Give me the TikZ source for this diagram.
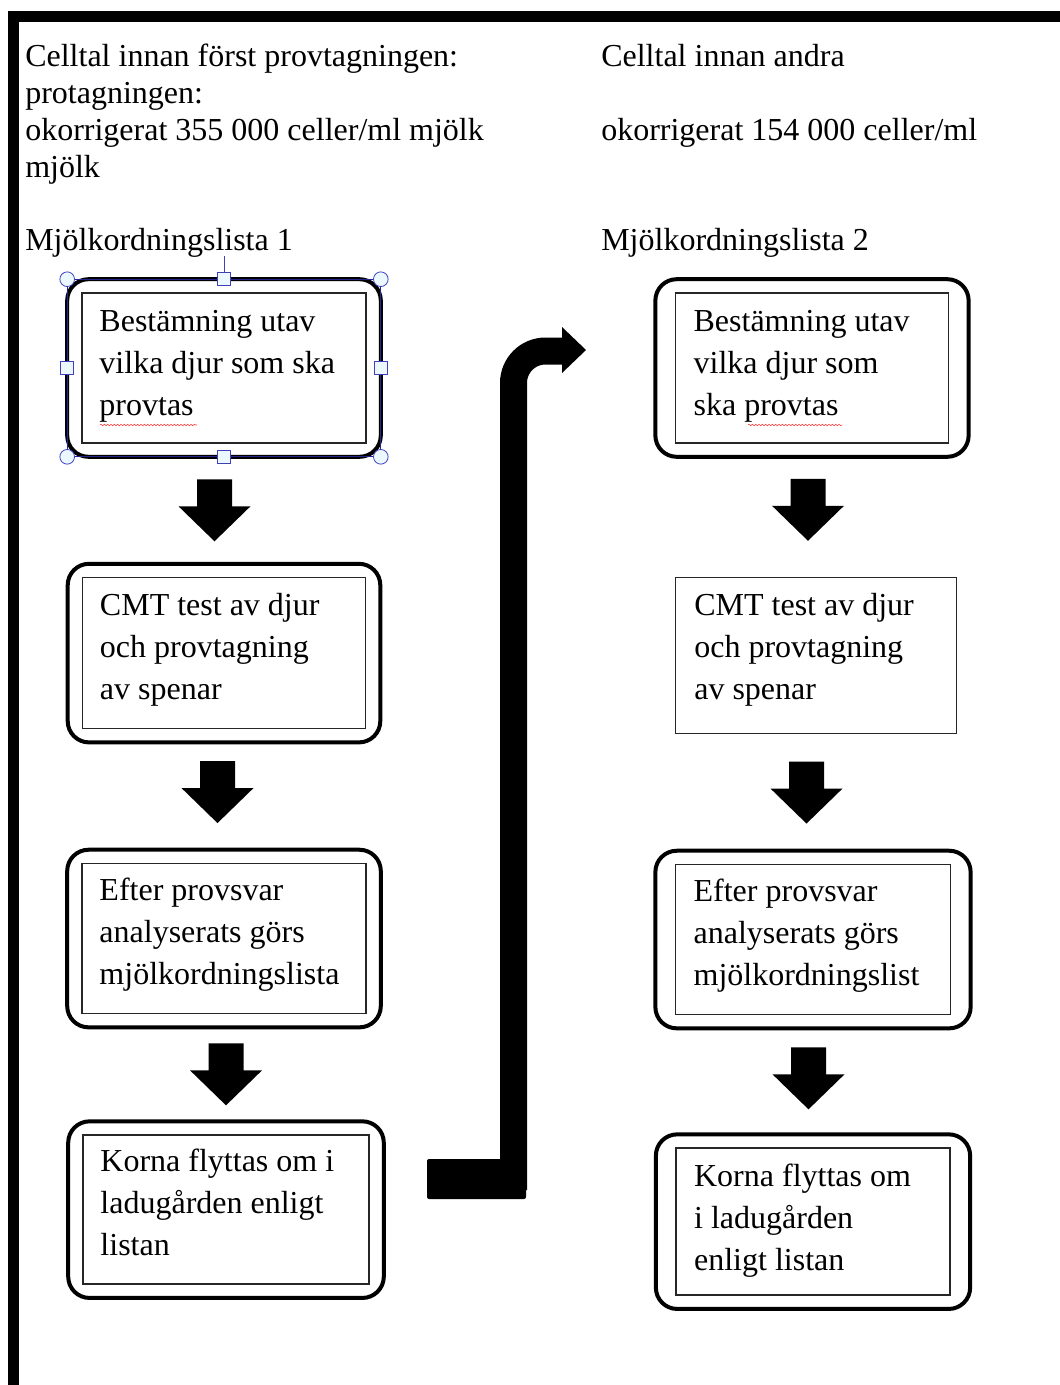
\documentclass[tikz,border=0pt]{standalone}
\usepackage{fontspec}
\setmainfont{Liberation Serif}
\usetikzlibrary{positioning, fit, calc, decorations.pathmorphing}

\begin{document}
\begin{tikzpicture}[
  x=0.75pt, y=-0.75pt,
  hdr/.style={anchor=north west, inner sep=0pt, align=left,
              font=\fontsize{24pt}{27.75pt}\selectfont},
  inbox/.style={rectangle, draw=black!85, line width=1.2pt, inner sep=0pt},
  btext/.style={inner sep=0pt, align=left,
                font=\fontsize{24pt}{31.5pt}\selectfont},
  outbox/.style={rectangle, draw=black, line width=3pt, rounded corners=16pt,
                 outer sep=0pt, inner xsep=#1, inner ysep=9.75pt},
  outbox/.default=10.5pt,
  handle/.style={draw=gray!50!blue, fill=cyan!8, line width=0.6pt, inner sep=0pt},
  spell/.style={draw=red!80, line width=0.4pt, decorate,
                decoration={snake, amplitude=0.6pt, segment length=2.5pt}},
  bigarr/.style={line width=20.25pt, rounded corners=24pt},
  downarr/.pic={\fill (-17.5,-31) -- (17.5,-31) -- (17.5,-4) -- (36,-4)
                -- (0,31) -- (-36,-4) -- (-17.5,-4) -- cycle;}
]
\useasboundingbox (0,0) rectangle (1060,1385);

% ==================== FRAME ====================
\fill (8,11) rectangle (1060,22);
\fill (8,11) rectangle (19,1385);

% ==================== HEADINGS ====================
\node[hdr] (head1) at (25,44)
  {Celltal innan först provtagningen:\\protagningen:\\okorrigerat 355 000 celler/ml mjölk\\mjölk};
\node[hdr] (head2) at (601,44)
  {Celltal innan andra\\~\\okorrigerat 154 000 celler/ml};
\node[hdr] (list1) at (25,228) {Mjölkordningslista 1};
\node[hdr] (list2) at (601,228) {Mjölkordningslista 2};

% ==================== LEFT COLUMN ====================
\node[inbox, minimum width=213pt, minimum height=112.5pt] (L1) at (224,368) {};
\node[inbox, minimum width=212.25pt, minimum height=113.25pt, below=99.75pt of L1] (L2) {};
\node[inbox, minimum width=213pt, minimum height=112.5pt, below=100pt of L2] (L3) {};
\node[inbox, minimum width=214.5pt, minimum height=111.75pt, below=90pt of L3, xshift=1.5pt] (L4) {};

\node[btext, below right=13.5pt and 13.5pt of L1.north west] (L1t)
  {Bestämning utav\\vilka djur som ska\\provtas};
\node[btext, below right=12pt and 13.5pt of L2.north west] (L2t)
  {CMT test av djur\\och provtagning\\av spenar};
\node[btext, below right=11.5pt and 13.5pt of L3.north west] (L3t)
  {Efter provsvar\\analyserats görs\\mjölkordningslista};
\node[btext, below right=11pt and 13.5pt of L4.north west] (L4t)
  {Korna flyttas om i\\ladugården enligt\\listan};

\node[outbox, fit=(L1)] (L1o) {};
\node[outbox, fit=(L2)] (L2o) {};
\node[outbox, fit=(L3)] (L3o) {};
\node[outbox, fit=(L4)] (L4o) {};

% ==================== RIGHT COLUMN ====================
\node[inbox, minimum width=204.75pt, minimum height=112.5pt] (R1) at (812,368) {};
\node[inbox, minimum width=210.75pt, minimum height=117pt, below=99.75pt of R1, xshift=3pt] (R2) {};
\node[inbox, minimum width=206.25pt, minimum height=112.5pt, below=97pt of R2, xshift=-2.25pt] (R3) {};
\node[inbox, minimum width=205.5pt, minimum height=110.25pt, below=99pt of R3] (R4) {};

\node[btext, below right=13.5pt and 14pt of R1.north west] (R1t)
  {Bestämning utav\\vilka djur som\\ska provtas};
\node[btext, below right=12pt and 14.5pt of R2.north west] (R2t)
  {CMT test av djur\\och provtagning\\av spenar};
\node[btext, below right=11.5pt and 14pt of R3.north west] (R3t)
  {Efter provsvar\\analyserats görs\\mjölkordningslist};
\node[btext, below right=12pt and 14pt of R4.north west] (R4t)
  {Korna flyttas om\\i ladugården\\enligt listan};

\node[outbox=14.5pt, fit=(R1)] (R1o) {};
\node[outbox=14.5pt, fit=(R3)] (R3o) {};
\node[outbox=14.5pt, fit=(R4)] (R4o) {};

% ==================== DOWN ARROWS ====================
\pic at ($(L1o.south)!.5!(L2o.north)+(-9.5,0)$) {downarr};
\pic at ($(L2o.south)!.5!(L3o.north)+(-6.5,-4)$) {downarr};
\pic at ($(L3o.south)!.5!(L4o.north)+(1,0)$) {downarr};
\pic at ($(R1o.south)!.5!(R2.north)+(-6,-7)$) {downarr};
\pic at ($(R2.south)!.5!(R3o.north)+(-8,0)$) {downarr};
\pic at ($(R3o.south)!.5!(R4o.north)+(-4.5,-3)$) {downarr};

% ==================== BENT ARROW ====================
\coordinate (foot) at (513.5,1190);
\coordinate (knee) at (513.5,351);
\coordinate (hand) at (563,351);
\fill[rounded corners=1.5pt] (427,1159) rectangle (526,1199);
\draw[bigarr] (foot) -- (knee) -- (hand);
\fill (562,327) -- (586,350) -- (562,373) -- cycle;

% ==================== SELECTION ====================
\draw[handle] (L1o.north) -- ++(0,-23);
\draw[draw=gray!40!blue!70!black, line width=0.6pt] (L1o.north west) rectangle (L1o.south east);
\foreach \a [count=\i] in {north west, north east, south west, south east}
  \node[handle, circle, minimum size=11pt] (hc\i) at (L1o.\a) {};
\foreach \a [count=\i] in {north, south, west, east}
  \node[handle, rectangle, minimum size=9.5pt] (hs\i) at (L1o.\a) {};

% spelling marks
\draw[spell] (100,425) -- (197,425);
\draw[spell] (748,425) -- (842,425);

\end{tikzpicture}
\end{document}
